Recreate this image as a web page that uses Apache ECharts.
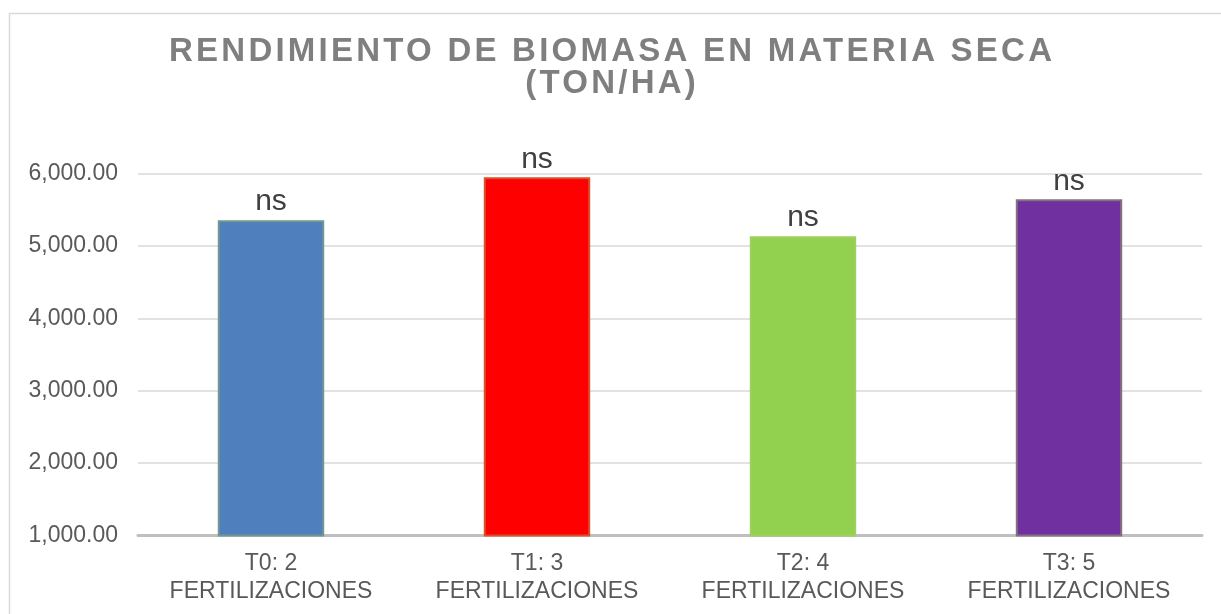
<!DOCTYPE html>
<html><head><meta charset="utf-8">
<script src="https://cdn.jsdelivr.net/npm/echarts@6/dist/echarts.min.js"></script>
<style>html,body{margin:0;padding:0;background:#fff}#c{width:1221px;height:614px}</style>
</head><body><div id="c"></div>
<script>
const titleLines = ['RENDIMIENTO DE BIOMASA EN MATERIA SECA', '(TON/HA)'];
const categories = ['T0: 2\nFERTILIZACIONES', 'T1: 3\nFERTILIZACIONES', 'T2: 4\nFERTILIZACIONES', 'T3: 5\nFERTILIZACIONES'];
const values = [5355, 5947, 5135, 5643];
const significance = ['ns', 'ns', 'ns', 'ns'];
const barColors = ['#4f7fbc', '#ff0000', '#92d050', '#7030a0'];
const barEdges = ['#6f9890', '#d9502a', '#9fcf5c', '#857080'];
const yMin = 1000, yMax = 6000, yStep = 1000;

// Title typography: condensed bold with wide tracking
const TITLE_FAMILY = '"Liberation Sans Narrow", "Liberation Sans", Arial, sans-serif';
const TITLE_SIZE = 33;
const mc = document.createElement('canvas').getContext('2d');
mc.font = 'bold ' + TITLE_SIZE + 'px ' + TITLE_FAMILY;
const baseW = mc.measureText(titleLines[0]).width;
const track = Math.max(0, (883 - baseW) / (titleLines[0].length - 1));
const origFill = CanvasRenderingContext2D.prototype.fillText;
CanvasRenderingContext2D.prototype.fillText = function (t, x, y, w) {
  if (this.font && this.font.indexOf(TITLE_SIZE + 'px') >= 0 && /bold|700/.test(this.font)) {
    const prev = this.letterSpacing;
    this.letterSpacing = track + 'px';
    const r = origFill.call(this, t, x + track / 2, y, w);
    this.letterSpacing = prev;
    return r;
  }
  return origFill.call(this, t, x, y, w);
};

const chart = echarts.init(document.getElementById('c'), null, {renderer: 'canvas'});
chart.setOption({
  backgroundColor: '#ffffff',
  animation: false,
  title: {
    text: titleLines.join('\n'),
    left: 'center',
    top: 36,
    padding: [0, 0, 0, 13],
    textStyle: {
      fontFamily: TITLE_FAMILY, fontSize: TITLE_SIZE, fontWeight: 'bold',
      color: '#7f7f7f', lineHeight: 32
    }
  },
  graphic: [{
    type: 'rect', left: 7, top: 11, z: -1,
    shape: {width: 1300, height: 700},
    style: {fill: 'none', stroke: '#d9d9d9', lineWidth: 1.5}
  }],
  grid: {left: 138, right: 19, top: 173.5, bottom: 78.5, containLabel: false},
  xAxis: {
    type: 'category',
    data: categories,
    axisTick: {show: false},
    axisLine: {lineStyle: {color: '#bfbfbf', width: 3}},
    axisLabel: {
      color: '#595959', fontSize: 23, lineHeight: 28, margin: 14,
      fontFamily: '"Liberation Sans", Arial, sans-serif', interval: 0
    }
  },
  yAxis: {
    type: 'value',
    min: yMin, max: yMax, interval: yStep,
    axisLine: {show: false},
    axisTick: {show: false},
    splitLine: {lineStyle: {color: '#d9d9d9', width: 1.5}},
    axisLabel: {
      color: '#595959', fontSize: 23, margin: 20,
      fontFamily: '"Liberation Sans", Arial, sans-serif',
      formatter: v => v.toLocaleString('en-US', {minimumFractionDigits: 2, maximumFractionDigits: 2})
    }
  },
  series: [{
    type: 'bar',
    barWidth: '40%',
    data: values.map((v, i) => ({
      value: v,
      itemStyle: {color: barColors[i], borderColor: barEdges[i], borderWidth: 2}
    })),
    label: {
      show: true, position: 'top', distance: 3,
      formatter: p => significance[p.dataIndex],
      color: '#404040', fontSize: 30,
      fontFamily: '"Liberation Sans", Arial, sans-serif'
    }
  }]
});
</script>
</body></html>
